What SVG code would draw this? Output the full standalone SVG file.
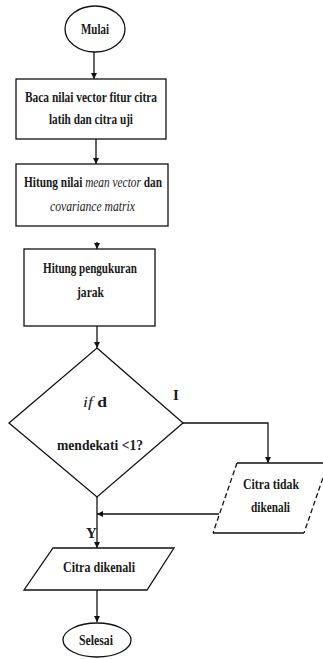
<svg xmlns="http://www.w3.org/2000/svg" width="323" height="659" viewBox="0 0 323 659">
<defs>
<style>
.s{fill:#fff;stroke:#111;stroke-width:1.3}
.c{fill:none;stroke:#111;stroke-width:1.3}
.t{font-family:"Liberation Serif","Times New Roman",serif;font-weight:bold;font-size:15px;fill:#1a1a1a}
.i{font-family:"Liberation Serif","Times New Roman",serif;font-style:italic;font-weight:normal;font-size:15px;fill:#1a1a1a}
.m{text-anchor:middle}
</style>
<marker id="ah" viewBox="0 0 8 8" refX="8" refY="4" markerWidth="6" markerHeight="6" orient="auto" markerUnits="userSpaceOnUse">
<path d="M0,0 L8,4 L0,8 z" fill="#111"/>
</marker>
</defs>
<g id="connectors">
<line class="c" x1="94" y1="52" x2="94" y2="79" marker-end="url(#ah)"/>
<line class="c" x1="96" y1="139" x2="96" y2="164" marker-end="url(#ah)"/>
<line class="c" x1="97" y1="242" x2="97" y2="249" marker-end="url(#ah)"/>
<line class="c" x1="97" y1="326" x2="97" y2="348" marker-end="url(#ah)"/>
<polyline class="c" points="183,423 268,423 268,463" marker-end="url(#ah)"/>
<line class="c" x1="219" y1="514" x2="97" y2="514" marker-end="url(#ah)"/>
<line class="c" x1="97" y1="497" x2="97" y2="548" marker-end="url(#ah)"/>
<line class="c" x1="97" y1="590" x2="97" y2="622" marker-end="url(#ah)"/>
<text class="t" x="173" y="400">I</text>
<text class="t" x="86" y="538">Y</text>
</g>
<g id="mulai">
<ellipse class="s" cx="95" cy="29" rx="30" ry="23"/>
<text class="t m" x="95" y="34" textLength="28" lengthAdjust="spacingAndGlyphs">Mulai</text>
</g>
<g id="baca">
<rect class="s" x="16" y="79" width="150" height="60"/>
<text class="t" x="25" y="102" textLength="132" lengthAdjust="spacingAndGlyphs">Baca nilai vector fitur citra</text>
<text class="t" x="49" y="124" textLength="84" lengthAdjust="spacingAndGlyphs">latih dan citra uji</text>
</g>
<g id="hitung-mean">
<rect class="s" x="16" y="164" width="152" height="62"/>
<text class="t" x="24" y="187" textLength="138" lengthAdjust="spacingAndGlyphs">Hitung nilai <tspan class="i">mean vector</tspan> dan</text>
<text class="i" x="50" y="211" textLength="85" lengthAdjust="spacingAndGlyphs">covariance matrix</text>
</g>
<g id="hitung-jarak">
<rect class="s" x="24" y="249" width="131" height="77"/>
<text class="t" x="43" y="273" textLength="94" lengthAdjust="spacingAndGlyphs">Hitung pengukuran</text>
<text class="t" x="77" y="297" textLength="27" lengthAdjust="spacingAndGlyphs">jarak</text>
</g>
<g id="decision">
<polygon class="s" points="97,348 183,423 97,497 9,423"/>
<text class="t" x="83" y="407" textLength="24" lengthAdjust="spacingAndGlyphs"><tspan class="i">if</tspan> d</text>
<text class="t" x="57" y="450" textLength="86" lengthAdjust="spacingAndGlyphs">mendekati &lt;1?</text>
</g>
<g id="tidak-dikenali">
<line class="c" x1="237" y1="463" x2="330" y2="463"/>
<line class="c" x1="213" y1="533" x2="304" y2="533"/>
<line class="c" x1="237" y1="463" x2="213" y2="533" stroke-dasharray="5,3"/>
<line class="c" x1="328" y1="463" x2="304" y2="533" stroke-dasharray="5,3"/>
<text class="t" x="243" y="489" textLength="56" lengthAdjust="spacingAndGlyphs">Citra tidak</text>
<text class="t" x="251" y="512" textLength="39" lengthAdjust="spacingAndGlyphs">dikenali</text>
</g>
<g id="dikenali">
<polygon class="s" points="53,548 174,548 147,590 24,590"/>
<text class="t" x="63" y="572" textLength="72" lengthAdjust="spacingAndGlyphs">Citra dikenali</text>
</g>
<g id="selesai">
<ellipse class="s" cx="97" cy="640" rx="34" ry="17"/>
<text class="t m" x="96" y="645" textLength="34" lengthAdjust="spacingAndGlyphs">Selesai</text>
</g>
</svg>
